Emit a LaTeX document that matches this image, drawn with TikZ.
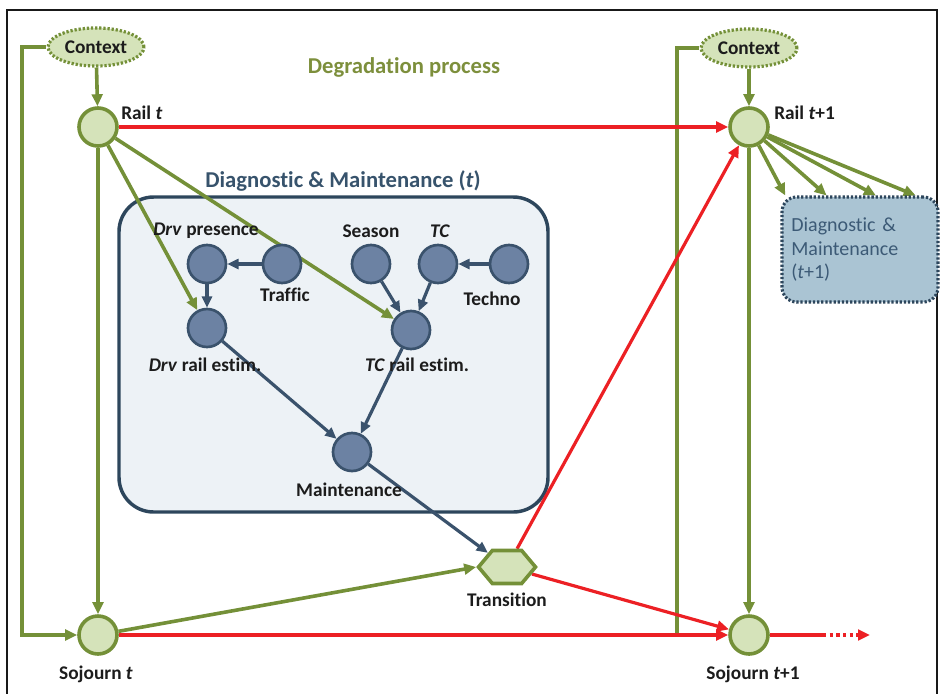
\documentclass[tikz,border=0pt]{standalone}
\usepackage{fontspec}
\setmainfont{Carlito}[Ligatures={NoCommon}]
\usetikzlibrary{arrows.meta,shapes.geometric,shapes.symbols,calc}
\definecolor{oliv}{RGB}{116,144,56}
\definecolor{ltgreen}{RGB}{213,227,186}
\definecolor{myred}{RGB}{236,32,36}
\definecolor{tolive}{RGB}{125,143,60}
\definecolor{bfill}{RGB}{108,130,163}
\definecolor{bdraw}{RGB}{58,82,108}
\definecolor{boxfill}{RGB}{237,242,246}
\definecolor{boxdraw}{RGB}{45,70,92}
\definecolor{ttext}{RGB}{55,83,108}
\definecolor{dmfill}{RGB}{170,196,211}
\definecolor{dmtext}{RGB}{60,90,118}
\definecolor{labtext}{RGB}{28,28,28}
\pgfdeclarelayer{bg}
\pgfdeclarelayer{edges}
\pgfsetlayers{bg,edges,main}
\tikzset{
  gnode/.style={circle, draw=oliv, fill=ltgreen, line width=2.7pt, minimum size=28.5pt, inner sep=0pt},
  bnode/.style={circle, draw=bdraw, fill=bfill, line width=2pt, minimum size=28.5pt, inner sep=0pt},
  ctxnode/.style={ellipse, draw=oliv, fill=ltgreen, line width=2.4pt, dash pattern=on 1.7pt off 1.4pt, minimum width=72pt, minimum height=28.5pt, inner sep=0pt, font=\fontsize{14.5}{16}\selectfont\bfseries, text=labtext},
  transnode/.style={signal, signal to=east and west, signal pointer angle=100, draw=oliv, fill=ltgreen, line width=2.7pt, minimum width=42.75pt, minimum height=24.75pt, inner sep=0pt},
  lab/.style={font=\fontsize{14.5}{16}\selectfont\bfseries, text=labtext, inner sep=0pt},
  oarrow/.style={draw=oliv, line width=2.7pt, -{Triangle[length=9pt,width=8pt]}},
  oline/.style={draw=oliv, line width=2.7pt},
  rarrow/.style={draw=myred, line width=2.4pt, -{Triangle[length=9pt,width=8pt]}},
  barrow/.style={draw=bdraw, line width=2.4pt, -{Triangle[length=8.5pt,width=7.5pt]}},
  dmbox/.style={rectangle, rounded corners=26pt, draw=boxdraw, fill=boxfill, line width=2.6pt, minimum width=321.75pt, minimum height=236.25pt},
  dmnext/.style={rectangle, rounded corners=11pt, draw=boxdraw, fill=dmfill, line width=2.3pt, dash pattern=on 1.7pt off 1.4pt, minimum width=117pt, minimum height=78.75pt, text width=103pt, inner xsep=7pt, align=left, font=\fontsize{15}{17.5}\selectfont, text=dmtext},
  ttl/.style={font=\fontsize{17}{19}\selectfont\bfseries, inner sep=0pt}
}
\begin{document}
\begin{tikzpicture}[x=0.75pt,y=-0.75pt]
\useasboundingbox (0,0) rectangle (944,693);
\draw[black!90, line width=2pt] (7,720) -- (7,10) -- (937,10) -- (937,720);

% main nodes
\node[ctxnode] (ctx1) at (96,47) {Context};
\node[ctxnode] (ctx2) at (749,48) {Context};
\node[gnode] (rail1) at (98,127) {};
\node[gnode] (soj1) at (98,635) {};
\node[gnode] (rail2) at (749,127) {};
\node[gnode] (soj2) at (749,635) {};
\node[transnode] (trans) at (507,567) {};

\node[lab, anchor=west] (lrail1) at (121,113) {Rail \textit{t}};
\node[lab, anchor=west] (lrail2) at (774,113) {Rail \textit{t}+1};
\node[lab] (lsoj1) at (96,674) {Sojourn \textit{t}};
\node[lab] (lsoj2) at (753,674) {Sojourn \textit{t}+1};
\node[lab] (ltrans) at (507,600) {Transition};

\node[ttl, text=tolive] (tdeg) at (404,67) {Degradation process};
\node[ttl, text=ttext] (tdm) at (343,181) {Diagnostic \& Maintenance (\textit{t})};

% box
\begin{pgfonlayer}{bg}
\node[dmbox] (box) at (333.5,354.5) {};
\end{pgfonlayer}

% inner nodes
\node[bnode] (drvp) at (207,264) {};
\node[bnode] (traffic) at (282,264) {};
\node[bnode] (drve) at (207,328) {};
\node[bnode] (season) at (371,264) {};
\node[bnode] (tc) at (438,264) {};
\node[bnode] (techno) at (509,264) {};
\node[bnode] (tce) at (411,330) {};
\node[bnode] (maint) at (352,452) {};

\node[lab] (ldrvp) at (206,231) {\textit{Drv} presence};
\node[lab] (ltraffic) at (285,295) {Traffic};
\node[lab] (lseason) at (371,231) {Season};
\node[lab] (ltc) at (440,231) {\textit{TC}};
\node[lab] (ltechno) at (492,299) {Techno};
\node[lab] (ldrve) at (205,365) {\textit{Drv} rail estim.};
\node[lab] (ltce) at (417,365) {\textit{TC} rail estim.};
\node[lab] (lmaint) at (349,490) {Maintenance};

\node[dmnext] (dm2) at (860,249.5) {Diagnostic \&\\Maintenance\\(\textit{t}+1)};

\coordinate (c1a) at (22,47);
\coordinate (c1b) at (22,635);
\coordinate (c2a) at (677,48);
\coordinate (c2b) at (677,635);
\coordinate (r1) at (823,635);
\coordinate (r2) at (870,635);

\begin{pgfonlayer}{edges}
% olive
\draw[oarrow] (ctx1) -- (rail1);
\draw[oarrow] (ctx1.west) -- (c1a) -- (c1b) -- (soj1.west);
\draw[oarrow] (rail1) -- (soj1);
\draw[oarrow] (rail1) -- (drve);
\draw[oarrow] (rail1) -- (tce);
\draw[oarrow] (soj1) -- (trans.west);
\draw[oarrow] (ctx2) -- (rail2);
\draw[oline] (ctx2.west) -- (c2a) -- (c2b);
\draw[oarrow] (rail2) -- (soj2);
\draw[oarrow] (rail2) -- ($(dm2.north west)!0.03!(dm2.north east)$);
\draw[oarrow] (rail2) -- ($(dm2.north west)!0.29!(dm2.north east)$);
\draw[oarrow] (rail2) -- ($(dm2.north west)!0.60!(dm2.north east)$);
\draw[oarrow] (rail2) -- ($(dm2.north west)!0.85!(dm2.north east)$);
% blue
\draw[barrow] (traffic) -- (drvp);
\draw[barrow] (drvp) -- (drve);
\draw[barrow] (techno) -- (tc);
\draw[barrow] (season) -- (tce);
\draw[barrow] (tc) -- (tce);
\draw[barrow] (drve) -- (maint);
\draw[barrow] (tce) -- (maint);
\draw[barrow] (maint) -- (trans);
% red
\draw[rarrow] (rail1) -- (rail2);
\draw[rarrow] (soj1) -- (soj2);
\draw[rarrow] (trans) -- (rail2);
\draw[rarrow] (trans) -- (soj2);
\draw[draw=myred, line width=2.4pt] (soj2) -- (r1);
\draw[draw=myred, line width=2.4pt, dash pattern=on 2.6pt off 2.4pt, -{Triangle[length=9pt,width=8pt]}] (r1) -- (r2);
\end{pgfonlayer}
\end{tikzpicture}
\end{document}
